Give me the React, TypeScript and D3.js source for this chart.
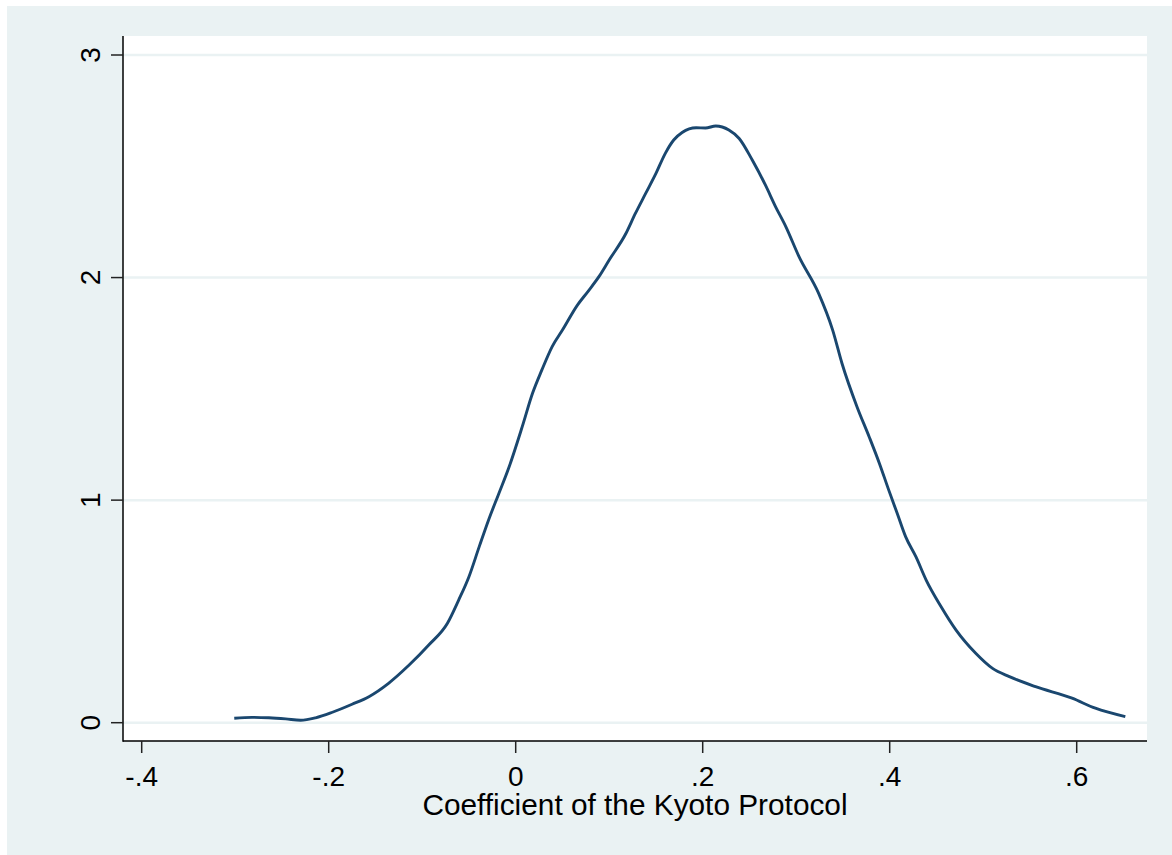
import React from "react";
import * as d3 from "d3";

const xValues = [
  -0.301, -0.282, -0.264, -0.246, -0.23, -0.214, -0.196, -0.175, -0.157, -0.136,
  -0.114, -0.093, -0.073, -0.061, -0.05, -0.039, -0.029, -0.018, -0.007, 0.007,
  0.018, 0.028, 0.039, 0.05, 0.066, 0.077, 0.089, 0.1, 0.118, 0.128,
  0.139, 0.15, 0.16, 0.169, 0.178, 0.193, 0.203, 0.214, 0.228, 0.239,
  0.253, 0.267, 0.278, 0.289, 0.303, 0.324, 0.339, 0.349, 0.365, 0.378,
  0.389, 0.399, 0.408, 0.417, 0.428, 0.439, 0.455, 0.471, 0.492, 0.51,
  0.528, 0.556, 0.595, 0.62, 0.652,
];
const densityValues = [
  0.02, 0.024, 0.022, 0.017, 0.011, 0.022, 0.047, 0.083, 0.117, 0.177,
  0.259, 0.349, 0.447, 0.551, 0.656, 0.791, 0.911, 1.03, 1.15, 1.33,
  1.48, 1.585, 1.69, 1.764, 1.876, 1.936, 2.004, 2.079, 2.199, 2.288,
  2.378, 2.468, 2.558, 2.618, 2.652, 2.673, 2.672, 2.681, 2.663, 2.625,
  2.528, 2.416, 2.318, 2.228, 2.094, 1.929, 1.764, 1.614, 1.42, 1.285,
  1.165, 1.045, 0.941, 0.836, 0.746, 0.641, 0.521, 0.416, 0.312, 0.244,
  0.207, 0.162, 0.11, 0.065, 0.027,
];
const xTicks = [-0.4, -0.2, 0, 0.2, 0.4, 0.6];
const xTickLabels = ["-.4", "-.2", "0", ".2", ".4", ".6"];
const yTicks = [0, 1, 2, 3];
const yTickLabels = ["0", "1", "2", "3"];
const xTitle = "Coefficient of the Kyoto Protocol";

const W = 1172;
const H = 855;
const BG = "#EAF2F3";
const LINE = "#1a476f";
const FONT = "'Liberation Sans', Arial, sans-serif";

export default function App() {
  const plotLeft = 123;
  const plotRight = 1147;
  const plotTop = 36;
  const plotBottom = 741;
  const x = d3.scaleLinear().domain([-0.4, 0.6]).range([141.7, 1076.7]);
  const y = d3.scaleLinear().domain([0, 3]).range([722.7, 55]);
  const pts = xValues.map((v, i) => [v, densityValues[i]] as [number, number]);
  const line = d3
    .line<[number, number]>()
    .x((d) => x(d[0]))
    .y((d) => y(d[1]))
    .curve(d3.curveMonotoneX);

  return (
    <svg
      width={W}
      height={H}
      style={{ position: "absolute", left: 0, top: 0, display: "block" }}
      fontFamily={FONT}
    >
      <rect x={0} y={0} width={W} height={H} fill="#ffffff" />
      <rect x={7} y={6} width={W - 7} height={H - 6} fill={BG} />
      <rect
        x={plotLeft}
        y={plotTop}
        width={plotRight - plotLeft}
        height={plotBottom - plotTop}
        fill="#ffffff"
      />
      {yTicks.map((t) => (
        <line
          key={"g" + t}
          x1={plotLeft}
          x2={plotRight}
          y1={y(t)}
          y2={y(t)}
          stroke={BG}
          strokeWidth={2.5}
        />
      ))}
      <path d={line(pts) || ""} fill="none" stroke={LINE} strokeWidth={2.9} strokeLinejoin="round" />
      <line x1={plotLeft} x2={plotLeft} y1={plotTop} y2={plotBottom + 0.7} stroke="#000" strokeWidth={1.5} />
      <line x1={plotLeft} x2={plotRight} y1={plotBottom} y2={plotBottom} stroke="#000" strokeWidth={1.5} />
      {yTicks.map((t, i) => (
        <g key={"y" + t}>
          <line x1={plotLeft - 12} x2={plotLeft} y1={y(t)} y2={y(t)} stroke="#222" strokeWidth={1.5} />
          <text
            transform={`translate(${100},${y(t)}) rotate(-90)`}
            textAnchor="middle"
            fontSize={28}
            fill="#000"
          >
            {yTickLabels[i]}
          </text>
        </g>
      ))}
      {xTicks.map((t, i) => (
        <g key={"x" + t}>
          <line x1={x(t)} x2={x(t)} y1={plotBottom} y2={plotBottom + 12} stroke="#222" strokeWidth={1.5} />
          <text x={x(t)} y={786} textAnchor="middle" fontSize={28} fill="#000">
            {xTickLabels[i]}
          </text>
        </g>
      ))}
      <text x={(plotLeft + plotRight) / 2} y={815} textAnchor="middle" fontSize={29.8} fill="#000">
        {xTitle}
      </text>
    </svg>
  );
}
